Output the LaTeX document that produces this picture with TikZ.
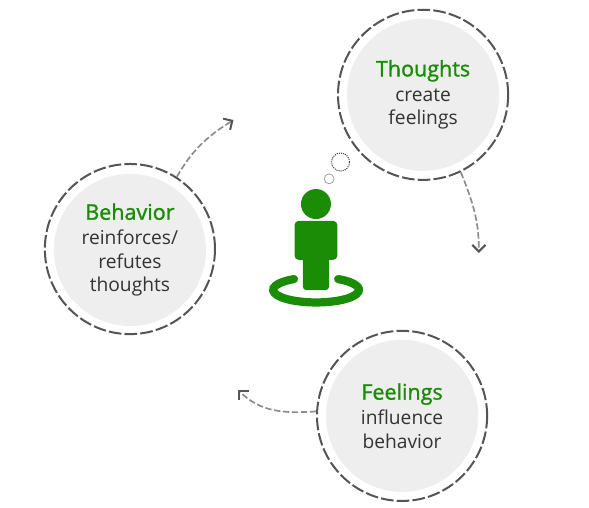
\documentclass[tikz,border=0pt]{standalone}
\usepackage{fontspec}
\setmainfont{Open Sans}
\usetikzlibrary{arrows.meta,positioning}
\definecolor{c1}{RGB}{26,140,5}
\definecolor{c2}{RGB}{238,238,238}
\definecolor{c3}{RGB}{85,85,85}
\definecolor{c4}{RGB}{140,140,140}
\newfontfamily\headfont[FakeBold=1.3]{Open Sans}
\newcommand{\headline}[1]{{\headfont\fontsize{20.4}{24}\selectfont\color{c1}#1}\\[1.5pt]}

\begin{document}
\begin{tikzpicture}[
    ring/.style={circle,draw=c3,line width=1.9pt,dash pattern=on 12pt off 3pt,
                 minimum size=5.67cm,inner sep=0pt},
    disc/.style={circle,fill=c2,minimum size=5.07cm,inner sep=0pt,text=black!80,
                 font=\fontsize{18.2}{22.3}\selectfont,align=center},
    arr/.style={line width=1.6pt,c4,dash pattern=on 6pt off 2.5pt,
                -{Straight Barb[c3,line width=1.9pt,length=2.2mm,width=4.4mm]}},
    figure/.style={fill=c1,inner sep=0pt}]
    \useasboundingbox (0,0) rectangle (19.63,16.93);
    % three stages
    \node[ring] (thoughts) at (14.1,13.77) {};
    \node[disc] (thoughtstext) at (thoughts) {\headline{Thoughts}create\\feelings};
    \node[ring] (behavior) at (4.33,8.63) {};
    \node[disc] (behaviortext) at (4.33,8.6) {\headline{Behavior}reinforces/\\refutes\\thoughts};
    \node[ring] (feelings) at (13.4,3.07) {};
    \node[disc] (feelingstext) at (feelings) {\headline{Feelings}influence\\behavior};
    % free ends of the arrows
    \coordinate (behaviorend) at (7.78,12.93);
    \coordinate (thoughtsend) at (15.96,8.5);
    \coordinate (feelingsend) at (7.94,3.93);
    \draw[arr] (behavior.57) to[out=60,in=212] (behaviorend);
    \draw[arr] (thoughts.-64) to[out=-68,in=90] (thoughtsend);
    \draw[arr] (feelings.177) to[out=184,in=-45] (feelingsend);
    % person
    \node[figure,circle,minimum size=1cm] (head) at (10.53,10.13) {};
    \node[figure,rounded corners=4pt,minimum width=1.43cm,minimum height=1.3cm] (body) at (10.53,8.92) {};
    \node[figure,rounded corners=3pt,minimum width=.87cm,minimum height=1.33cm] (leg) at (10.53,7.93) {};
    \draw[c1,line width=7.8pt,line cap=round] (11.27,7.63) arc[start angle=59,end angle=-239,x radius=1.43cm,y radius=.42cm];
    % thought bubbles
    \node[circle,draw=black!75,densely dotted,line width=1pt,minimum size=.6cm,inner sep=0pt] (bigbubble) at (11.35,11.53) {};
    \node[circle,draw=black!40,line width=.7pt,minimum size=.33cm,inner sep=0pt] (smallbubble) at (10.97,10.97) {};
  \end{tikzpicture}
\end{document}
